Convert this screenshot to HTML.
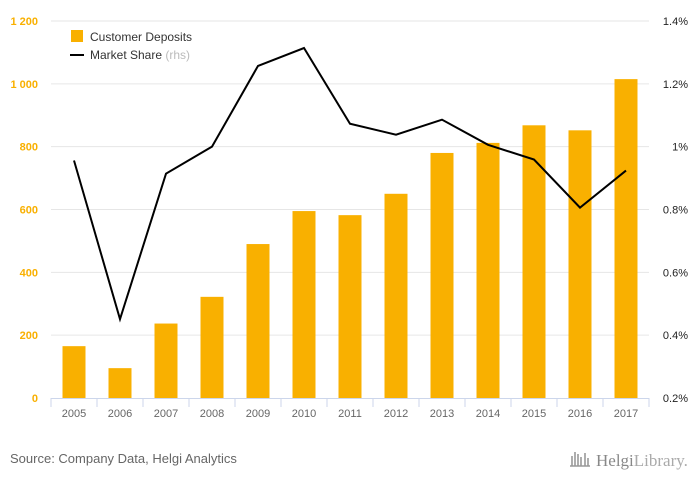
<!DOCTYPE html>
<html><head><meta charset="utf-8"><style>
body{margin:0;width:700px;height:483px;background:#fff;font-family:"Liberation Sans",sans-serif;overflow:hidden}
</style></head><body>
<svg width="700" height="483" id="c" font-family="Liberation Sans, sans-serif">
<text x="10" y="463" font-size="13" fill="#666">Source: Company Data, Helgi Analytics</text>
<g>
<path d="M570 466 h20 M572 466 v-10 M575 466 v-14 M578 466 v-12 M581 466 v-9 M585 466 v-13 M588 466 v-8" stroke="#999" stroke-width="1.6" fill="none"/>
<text x="596" y="466" font-size="17" fill="#888" font-family="Liberation Serif, serif">Helgi<tspan fill="#aaa">Library.</tspan></text>
</g>
<g>
<rect x="71" y="30" width="12" height="12" fill="#f9b000"/>
<text x="90" y="41" font-size="12" fill="#333">Customer Deposits</text>
<line x1="70" y1="55" x2="84" y2="55" stroke="#000" stroke-width="2"/>
<text x="90" y="59" font-size="12" fill="#333">Market Share <tspan fill="#bbb">(rhs)</tspan></text>
</g>
</svg>
<script>
const categories=["2005","2006","2007","2008","2009","2010","2011","2012","2013","2014","2015","2016","2017"];
const deposits=[165,95,237,322,490,595,582,650,780,812,868,852,1015];
const share=[0.956,0.451,0.914,1.0,1.257,1.314,1.073,1.038,1.086,1.006,0.959,0.806,0.924];
const leftTicks=[0,200,400,600,800,1000,1200];
const leftTickLabels=["0","200","400","600","800","1 000","1 200"];
const rightTicks=[0.2,0.4,0.6,0.8,1.0,1.2,1.4];
const rightTickLabels=["0.2%","0.4%","0.6%","0.8%","1%","1.2%","1.4%"];
const svg=document.getElementById('c');const NS="http://www.w3.org/2000/svg";
const X0=51,BW=46,Y0=398,YT=21;
const yL=v=>Y0-(v/1200)*(Y0-YT);
const yR=v=>Y0-((v-0.2)/1.2)*(Y0-YT);
const xC=i=>X0+BW*i+BW/2;
function mk(t,a){const e=document.createElementNS(NS,t);for(const k in a)e.setAttribute(k,a[k]);svg.appendChild(e);return e;}
leftTicks.forEach((v,i)=>{
 if(i>0){const g=mk('line',{x1:X0,x2:X0+BW*13,y1:yL(v),y2:yL(v),stroke:'#e6e6e6'});
 
 }
 const t=mk('text',{x:38,y:yL(v)+4,'font-size':11,fill:'#f9b000','text-anchor':'end','font-weight':'bold'});t.textContent=leftTickLabels[i];
 
 
});
rightTicks.forEach((v,i)=>{
 const t=mk('text',{x:688,y:yR(v)+4,'font-size':11,fill:'#222','text-anchor':'end'});t.textContent=rightTickLabels[i];
 
 
});
deposits.forEach((v,i)=>{
 const r=mk('rect',{x:xC(i)-11.5,y:yL(v),width:23,height:Y0-yL(v),fill:'#f9b000'});
 
 
});
const ax=mk('line',{x1:X0,x2:X0+BW*13,y1:Y0+0.5,y2:Y0+0.5,stroke:'#ccd6eb'});


for(let i=0;i<=13;i++){const tk=mk('line',{x1:X0+BW*i,x2:X0+BW*i,y1:Y0,y2:Y0+9,stroke:'#ccd6eb'});
 
 }
categories.forEach((c,i)=>{
 const t=mk('text',{x:xC(i),y:417,'font-size':11,fill:'#666','text-anchor':'middle'});t.textContent=c;
 
 
});
const pl=mk('polyline',{points:share.map((v,i)=>xC(i)+','+yR(v)).join(' '),fill:'none',stroke:'#000','stroke-width':2});


</script>
</body></html>
